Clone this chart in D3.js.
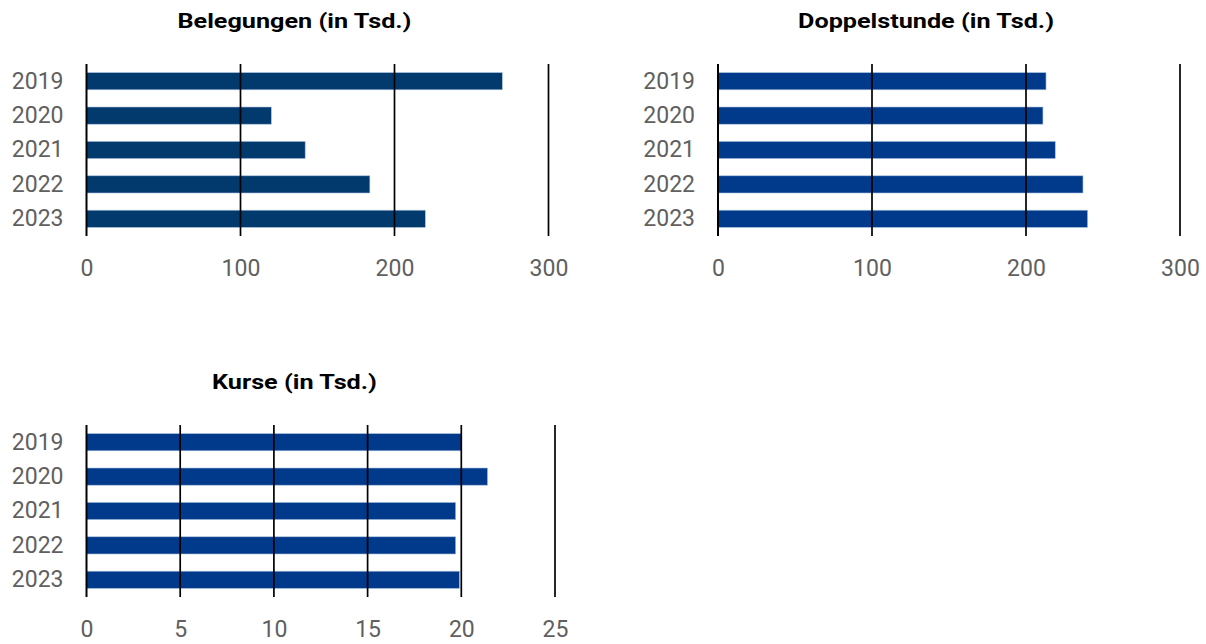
<!DOCTYPE html>
<html>
<head>
<meta charset="utf-8">
<script src="https://cdn.jsdelivr.net/npm/d3@7"></script>
<style>
  html, body { margin: 0; padding: 0; background: #fff; }
  svg { display: block; }
  text { font-family: Roboto, "Liberation Sans", sans-serif; }
</style>
</head>
<body>
<svg id="chart" width="1206" height="644"></svg>
<script>
// ---- data ----
const years = ["2019", "2020", "2021", "2022", "2023"];
const belegungen = [270, 120, 142, 184, 220];
const doppelstunde = [213, 211, 219, 237, 240];
const kurse = [20.0, 21.4, 19.7, 19.7, 19.9];
const ticksTsd = [0, 100, 200, 300];
const ticksKurse = [0, 5, 10, 15, 20, 25];
const titles = ["Belegungen (in Tsd.)", "Doppelstunde (in Tsd.)", "Kurse (in Tsd.)"];

// ---- layout ----
const panels = [
  { title: titles[0], values: belegungen, ticks: ticksTsd, max: 300, x0: 86.5, x1: 548.5, y0: 64, y1: 236, color: "#033a6e" },
  { title: titles[1], values: doppelstunde, ticks: ticksTsd, max: 300, x0: 718, x1: 1180, y0: 64, y1: 236, color: "#023a8b" },
  { title: titles[2], values: kurse, ticks: ticksKurse, max: 25, x0: 86.5, x1: 555, y0: 425, y1: 597, color: "#023a8b" }
];

const svg = d3.select("#chart");

panels.forEach(p => {
  const g = svg.append("g");
  const x = d3.scaleLinear().domain([0, p.max]).range([p.x0, p.x1]);
  const y = d3.scaleBand().domain(years).range([p.y0, p.y1]).paddingInner(0.5).paddingOuter(0.25);

  // title (slightly widened, as in the reference)
  g.append("text")
    .attr("transform", `translate(${p.x0 + 208},${p.y0 - 36}) scale(1.2,1)`)
    .attr("text-anchor", "middle")
    .style("font-size", "21px")
    .style("font-weight", "bold")
    .style("fill", "#000")
    .text(p.title);

  // bars
  g.selectAll("rect.bar").data(p.values).join("rect")
    .attr("class", "bar")
    .attr("x", x(0))
    .attr("y", (d, i) => y(years[i]))
    .attr("width", d => x(d) - x(0))
    .attr("height", y.bandwidth())
    .attr("fill", p.color)
    .attr("stroke", "#a9bfdc")
    .attr("stroke-width", 0.6);

  // grid lines (vertical)
  g.selectAll("line.grid").data(p.ticks.filter(t => t > 0)).join("line")
    .attr("class", "grid")
    .attr("x1", d => x(d)).attr("x2", d => x(d))
    .attr("y1", p.y0).attr("y2", p.y1)
    .attr("stroke", "#000")
    .attr("stroke-width", 1.7);

  // baseline at 0
  g.append("line")
    .attr("x1", x(0)).attr("x2", x(0))
    .attr("y1", p.y0).attr("y2", p.y1)
    .attr("stroke", "#000")
    .attr("stroke-width", 2);

  // x axis labels
  const xAxis = d3.axisBottom(x).tickValues(p.ticks).tickSize(0).tickPadding(24).tickFormat(d3.format("d"));
  const ax = g.append("g").attr("transform", `translate(0,${p.y1})`).call(xAxis);
  ax.select(".domain").remove();
  ax.selectAll("text").style("font-size", "23px").style("fill", "#606060").style("font-family", "Roboto, sans-serif");

  // y axis labels
  const yAxis = d3.axisLeft(y).tickSize(0).tickPadding(23);
  const ay = g.append("g").attr("transform", `translate(${p.x0},0)`).call(yAxis);
  ay.select(".domain").remove();
  ay.selectAll("text").style("font-size", "23px").style("fill", "#606060").style("font-family", "Roboto, sans-serif");
});
</script>
</body>
</html>
